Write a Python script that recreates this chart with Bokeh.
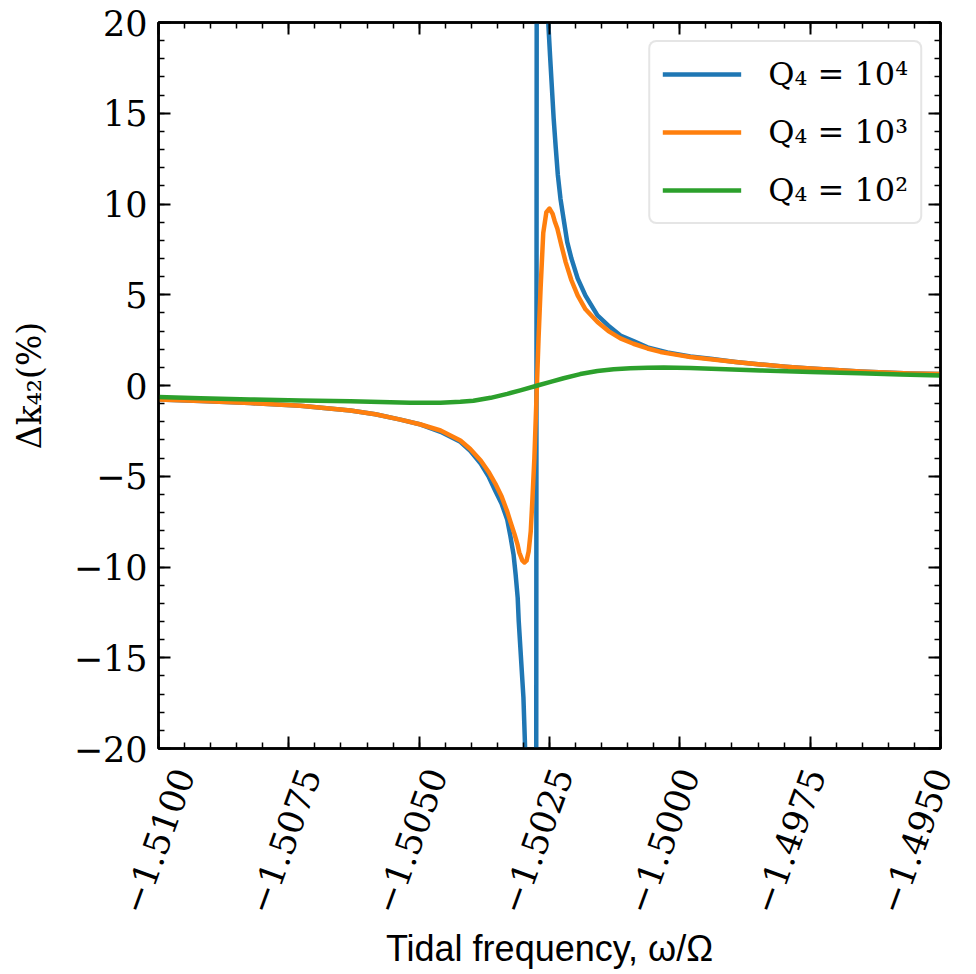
import math
from bokeh.plotting import figure
from bokeh.models import FixedTicker, LinearAxis, Range1d, CustomLabelingPolicy
from bokeh.embed import file_html
from bokeh.resources import INLINE

# ---- data ----
freq_q1e4 = [-1.51000, -1.50919, -1.50824, -1.50728, -1.50632, -1.50584, -1.50536, -1.50497,
             -1.50459, -1.50421, -1.50402, -1.50382, -1.50367, -1.50354, -1.50342, -1.50331,
             -1.50325, -1.50319, -1.50315, -1.50311, -1.50309, -1.50306, -1.50303, -1.50300,
             -1.50297, -1.50290, -1.50283, -1.50279, -1.50277, -1.50275, -1.50273, -1.50271,
             -1.50267, -1.50260, -1.50252, -1.50249, -1.50246, -1.50242, -1.50238, -1.50234,
             -1.50229, -1.50222, -1.50216, -1.50208, -1.50196, -1.50181, -1.50158, -1.50137,
             -1.50114, -1.50089, -1.50062, -1.50024, -1.49980, -1.49941, -1.49893, -1.49845,
             -1.49797, -1.49749, -1.49701, -1.49654, -1.49606, -1.49558, -1.49500]
dk_q1e4 = [-0.77, -0.85, -0.97, -1.12, -1.38, -1.58, -1.88, -2.15,
           -2.55, -3.1, -3.6, -4.3, -5.0, -5.8, -6.5, -7.4,
           -8.3, -9.3, -10.4, -11.7, -13.0, -14.4, -15.8, -17.2,
           -19.8, -31.0, -60.0, -85.0, -95.0, 0.0, 95.0, 85.0,
           60.0, 31.0, 19.8, 18.2, 16.7, 14.7, 13.1, 11.6,
           10.3, 9.0, 7.9, 7.0, 5.9, 4.95, 3.86, 3.3,
           2.75, 2.45, 2.1, 1.82, 1.6, 1.47, 1.3, 1.16,
           1.04, 0.94, 0.85, 0.77, 0.71, 0.66, 0.63]

freq_q1e3 = [-1.51000, -1.50919, -1.50824, -1.50728, -1.50632, -1.50584, -1.50536, -1.50497,
             -1.50459, -1.50421, -1.50402, -1.50382, -1.50367, -1.50354, -1.50342, -1.50331,
             -1.50325, -1.50317, -1.50311, -1.50308, -1.50302, -1.50298, -1.50294, -1.50290,
             -1.50286, -1.50283, -1.50279, -1.50275, -1.50271, -1.50267, -1.50262, -1.50256,
             -1.50250, -1.50244, -1.50240, -1.50235, -1.50227, -1.50219, -1.50208, -1.50196,
             -1.50181, -1.50158, -1.50137, -1.50114, -1.50089, -1.50062, -1.50037, -1.50008,
             -1.49980, -1.49941, -1.49893, -1.49845, -1.49797, -1.49749, -1.49701, -1.49654,
             -1.49606, -1.49558, -1.49500]
dk_q1e3 = [-0.77, -0.85, -0.97, -1.12, -1.38, -1.58, -1.88, -2.15,
           -2.48, -3.03, -3.5, -4.13, -4.75, -5.40, -6.1, -6.95,
           -7.5, -8.2, -8.8, -9.2, -9.65, -9.75, -9.65, -9.15,
           -8.05, -6.4, -4.0, -0.7, 2.6, 5.4, 8.4, 9.55,
           9.75, 9.45, 9.05, 8.65, 7.7, 6.8, 5.8, 4.96,
           4.2, 3.5, 3.0, 2.6, 2.3, 2.04, 1.85, 1.7,
           1.57, 1.45, 1.3, 1.16, 1.04, 0.94, 0.85, 0.77,
           0.71, 0.66, 0.63]

freq_q1e2 = [-1.51000, -1.50919, -1.50824, -1.50728, -1.50632, -1.50574, -1.50517, -1.50459,
             -1.50421, -1.50396, -1.50363, -1.50331, -1.50306, -1.50273, -1.50248, -1.50223,
             -1.50191, -1.50158, -1.50127, -1.50095, -1.50062, -1.50031, -1.49980, -1.49912,
             -1.49845, -1.49749, -1.49654, -1.49577, -1.49500]
dk_q1e2 = [-0.64, -0.70, -0.77, -0.82, -0.87, -0.91, -0.95, -0.95,
           -0.90, -0.84, -0.68, -0.46, -0.27, 0.0, 0.2, 0.4,
           0.63, 0.8, 0.89, 0.95, 0.98, 0.99, 0.96, 0.9,
           0.83, 0.75, 0.67, 0.61, 0.55]

series_labels = ["Q₄ = 10⁴", "Q₄ = 10³", "Q₄ = 10²"]
series_colors = ["#1f77b4", "#ff7f0e", "#2ca02c"]

x_ticks = [-1.51, -1.5075, -1.505, -1.5025, -1.5, -1.4975, -1.495]
x_tick_labels = ["−1.5100", "−1.5075", "−1.5050", "−1.5025", "−1.5000", "−1.4975", "−1.4950"]
y_ticks = [-20, -15, -10, -5, 0, 5, 10, 15, 20]
y_tick_labels = ["−20", "−15", "−10", "−5", "0", "5", "10", "15", "20"]
x_minor = [round(-1.51 + i * 0.0005, 4) for i in range(31)]
y_minor = list(range(-20, 21))

SERIF = "DejaVu Serif"
X_LO, X_HI, Y_LO, Y_HI = -1.51, -1.495, -20, 20
FRAME_W = 782
LABEL_SHIFT_PX = 25  # rotated labels are centred on their tick in the reference

p = figure(width=976, height=974,
           x_range=Range1d(X_LO, X_HI), y_range=Range1d(Y_LO, Y_HI),
           output_backend="svg", toolbar_location=None,
           min_border_left=158, min_border_right=36,
           min_border_top=22, min_border_bottom=226)
p.grid.visible = False
p.outline_line_color = "black"
p.outline_line_width = 2.5
p.background_fill_color = "white"
p.border_fill_color = "white"

for xs, ys, lab, col in zip([freq_q1e4, freq_q1e3, freq_q1e2],
                            [dk_q1e4, dk_q1e3, dk_q1e2],
                            series_labels, series_colors):
    p.line(xs, ys, line_color=col, line_width=4.5, legend_label=lab,
           line_join="round")


def style_axis(ax):
    ax.axis_line_width = 2.5
    ax.axis_line_color = "black"
    ax.major_tick_in = 12
    ax.major_tick_out = 0
    ax.minor_tick_in = 6
    ax.minor_tick_out = 0
    ax.major_tick_line_width = 2
    ax.minor_tick_line_width = 1.5
    ax.major_tick_line_color = "black"
    ax.minor_tick_line_color = "black"


def hide_labels(ax):
    ax.major_label_policy = CustomLabelingPolicy(code="return []")
    ax.major_label_text_font_size = "1px"
    ax.major_label_standoff = 0


# bottom axis: ticks only
xa = p.xaxis[0]
xa.ticker = FixedTicker(ticks=x_ticks, minor_ticks=x_minor)
style_axis(xa)
hide_labels(xa)

# bottom label axis: rotated labels pushed right (towards centring on the tick),
# the push fading to zero at the right end so the last label stays inside
r = LABEL_SHIFT_PX / FRAME_W
lab_hi = X_HI + 1e-7
lab_lo = (X_LO - r * lab_hi) / (1 - r)
p.extra_x_ranges = {"labels": Range1d(lab_lo, lab_hi)}
lab_ax = LinearAxis(x_range_name="labels",
                    ticker=FixedTicker(ticks=x_ticks, minor_ticks=[]))
lab_ax.axis_line_color = None
lab_ax.major_tick_line_color = None
lab_ax.minor_tick_line_color = None
lab_ax.major_tick_in = 0
lab_ax.major_tick_out = 0
lab_ax.minor_tick_in = 0
lab_ax.minor_tick_out = 0
lab_ax.major_label_overrides = {t: s for t, s in zip(x_ticks, x_tick_labels)}
lab_ax.major_label_orientation = math.radians(70)
lab_ax.major_label_text_font = SERIF
lab_ax.major_label_text_font_size = "35px"
lab_ax.major_label_text_color = "black"
lab_ax.major_label_standoff = 17
lab_ax.axis_label = "Tidal frequency, ω/Ω"
lab_ax.axis_label_text_font = "Liberation Sans"
lab_ax.axis_label_text_font_style = "normal"
lab_ax.axis_label_text_font_size = "36px"
lab_ax.axis_label_text_color = "black"
lab_ax.axis_label_standoff = 4
p.add_layout(lab_ax, "below")

ya = p.yaxis[0]
ya.ticker = FixedTicker(ticks=y_ticks, minor_ticks=y_minor)
style_axis(ya)
ya.major_label_overrides = {t: s for t, s in zip(y_ticks, y_tick_labels)}
ya.major_label_text_font = SERIF
ya.major_label_text_font_size = "35px"
ya.major_label_text_color = "black"
ya.major_label_standoff = 11
ya.axis_label = "Δk₄₂(%)"
ya.axis_label_text_font = SERIF
ya.axis_label_text_font_style = "normal"
ya.axis_label_text_font_size = "33px"
ya.axis_label_text_color = "black"
ya.axis_label_standoff = 22

top_ax = LinearAxis(ticker=FixedTicker(ticks=x_ticks, minor_ticks=x_minor))
style_axis(top_ax)
hide_labels(top_ax)
p.add_layout(top_ax, "above")

right_ax = LinearAxis(ticker=FixedTicker(ticks=y_ticks, minor_ticks=y_minor))
style_axis(right_ax)
hide_labels(right_ax)
p.add_layout(right_ax, "right")

lg = p.legend[0]
lg.location = "top_right"
lg.margin = 18
lg.padding = 12
lg.spacing = 18
lg.glyph_width = 79
lg.glyph_height = 40
lg.label_height = 40
lg.label_standoff = 27
lg.label_text_font = SERIF
lg.label_text_font_size = "32px"
lg.label_text_color = "black"
lg.border_line_color = "#cccccc"
lg.border_line_width = 2.5
lg.background_fill_color = "white"
lg.background_fill_alpha = 0.8
if hasattr(lg, "border_radius"):
    lg.border_radius = 8

open("out.html", "w").write(file_html(p, INLINE))
